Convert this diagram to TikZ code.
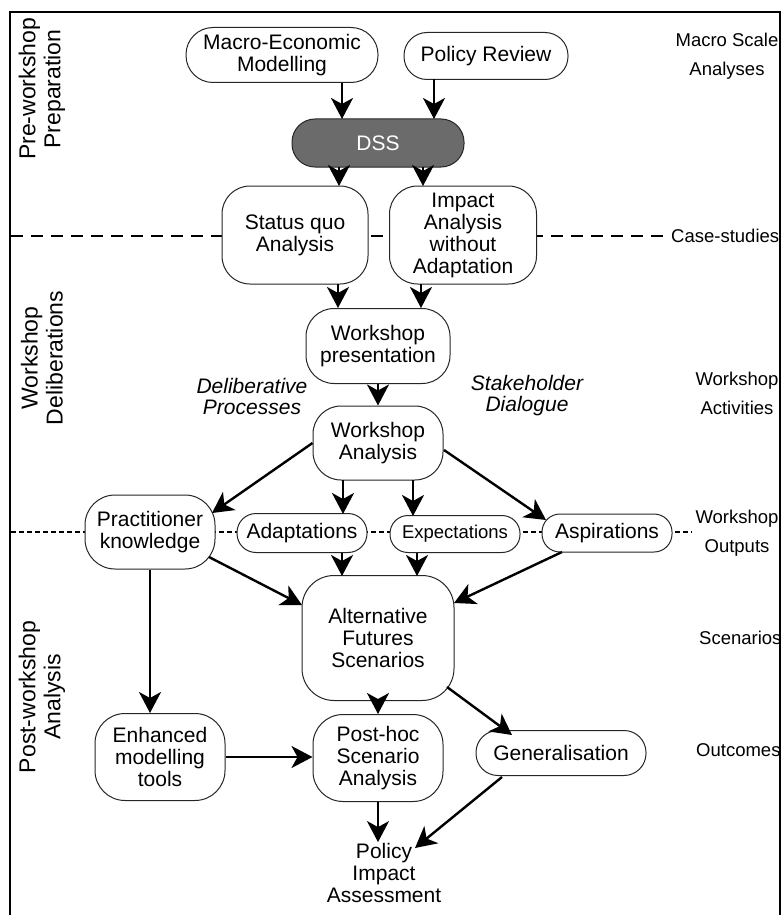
\documentclass[tikz,border=0pt]{standalone}
\usepackage{fontspec}
\setmainfont{Liberation Sans}
\usetikzlibrary{arrows.meta,calc}
\newcommand\bxf{\fontsize{21pt}{22pt}\selectfont}
\newcommand\sdf{\fontsize{23pt}{25pt}\selectfont}
\newcommand\rlf{\fontsize{18.5pt}{29pt}\selectfont}
\newcommand\itf{\fontsize{21pt}{21pt}\selectfont\itshape}
\begin{document}
\begin{tikzpicture}[x=1pt,y=-1pt,
  box/.style={draw=black!85, line width=1pt, fill=white, align=center, inner sep=0pt, font=\bxf},
  arr/.style={line width=2.4pt, -{Stealth[length=21pt 0,width=22pt 0,inset=6pt]}},
  sidelab/.style={rotate=90, align=center, font=\sdf, inner sep=0pt},
  rlab/.style={align=center, font=\rlf, inner sep=0pt},
  ilab/.style={align=center, font=\itf, inner sep=0pt}]
\useasboundingbox (0,0) rectangle (781,915);
% frame
\draw[line width=2.5pt] (10,930) -- (10,12) -- (780,12) -- (780,930);
% separators
\draw[line width=2.2pt, dash pattern=on 12pt off 8pt] (11,236) -- (665,236);
\draw[line width=1.6pt, dash pattern=on 5pt off 3pt] (11,532) -- (692,532);
% side labels
\node[sidelab] (pre) at (42,89) {Pre-workshop\\Preparation};
\node[sidelab] (del) at (42,358) {Workshop\\Deliberations};
\node[sidelab] (post) at (42,697) {Post-workshop\\Analysis};
% right labels
\node[rlab] (mac) at (727,56) {Macro Scale\\Analyses};
\node[rlab, anchor=west] (cas) at (671,236) {Case-studies};
\node[rlab] (act) at (737,393) {Workshop\\Activities};
\node[rlab] (out) at (737,533) {Workshop\\Outputs};
\node[rlab, anchor=west] (sce) at (699,638) {Scenarios};
\node[rlab, anchor=west] (outc) at (696,750) {Outcomes};
% italic labels
\node[ilab] (delp) at (252,396) {Deliberative\\Processes};
\node[ilab] (stak) at (527,396) {Stakeholder\\Dialogue};
% boxes
\node[box, minimum width=192pt, minimum height=55pt, rounded corners=27pt] (macro) at (282,55) {Macro-Economic\\Modelling};
\node[box, minimum width=164pt, minimum height=47pt, rounded corners=23pt] (policy) at (486,56) {Policy Review};
\node[box, fill=black!58, text=white, minimum width=172pt, minimum height=48pt, rounded corners=23pt] (dss) at (378,143) {DSS};
\node[box, minimum width=146pt, minimum height=98pt, rounded corners=28pt] (status) at (295,235) {Status quo\\Analysis};
\node[box, minimum width=147pt, minimum height=98pt, rounded corners=28pt] (impact) at (463,235) {Impact\\Analysis\\without\\Adaptation};
\node[box, minimum width=144pt, minimum height=75pt, rounded corners=28pt] (wp) at (378,346) {Workshop\\presentation};
\node[box, minimum width=130pt, minimum height=74pt, rounded corners=28pt] (wa) at (378,443) {Workshop\\Analysis};
\node[box, minimum width=130pt, minimum height=74pt, rounded corners=30pt] (prac) at (150,532) {Practitioner\\knowledge};
\node[box, minimum width=130pt, minimum height=39pt, rounded corners=19pt] (adapt) at (302,533) {Adaptations};
\node[box, minimum width=130pt, minimum height=37pt, rounded corners=18pt, font=\fontsize{18.5pt}{20pt}\selectfont] (expect) at (455,534) {Expectations};
\node[box, minimum width=130pt, minimum height=38pt, rounded corners=18pt] (aspir) at (607,533) {Aspirations};
\node[box, minimum width=152pt, minimum height=125pt, rounded corners=32pt] (afs) at (378,638) {Alternative\\Futures\\Scenarios};
\node[box, minimum width=130pt, minimum height=87pt, rounded corners=30pt] (enh) at (160,757) {Enhanced\\modelling\\tools};
\node[box, minimum width=130pt, minimum height=87pt, rounded corners=30pt] (posthoc) at (378,758) {Post-hoc\\Scenario\\Analysis};
\node[box, minimum width=170pt, minimum height=45pt, rounded corners=22pt] (gen) at (561,753) {Generalisation};
\node[align=center, font=\bxf, inner sep=1pt] (pia) at (384,873) {Policy\\Impact\\Assessment};
% arrows
\draw[arr] ($(macro)+(60,28)$) -- ($(dss)+(-36,-24)$);
\draw[arr] ($(policy)+(-52,23)$) -- ($(dss)+(56,-24)$);
\draw[arr] ($(dss)+(-39,24)$) -- ($(status)+(44,-49)$);
\draw[arr] ($(dss)+(45,24)$) -- ($(impact)+(-40,-49)$);
\draw[arr] ($(status)+(43,49)$) -- ($(wp)+(-40,-38)$);
\draw[arr] ($(impact)+(-42,49)$) -- ($(wp)+(43,-38)$);
\draw[arr] (wp.south) -- (wa.north);
\draw[arr] (wa.west) -- ($(prac)+(62,-19)$);
\draw[arr] ($(wa)+(-35,37)$) -- ($(adapt)+(41,-19)$);
\draw[arr] ($(wa)+(35,37)$) -- ($(expect)+(-42,-18)$);
\draw[arr] ($(wa)+(66,7)$) -- ($(aspir)+(-61,-13)$);
\draw[arr] ($(prac)+(59,25)$) -- ($(afs)+(-76,-33)$);
\draw[arr] ($(adapt)+(40,20)$) -- ($(afs)+(-36,-62)$);
\draw[arr] ($(expect)+(-38,19)$) -- ($(afs)+(39,-62)$);
\draw[arr] ($(aspir)+(-45,19)$) -- ($(afs)+(76,-35)$);
\draw[arr] (prac.south) -- (prac.south |- enh.north);
\draw[arr] (afs.south) -- (posthoc.north);
\draw[arr] (enh.east) -- (enh.east -| posthoc.west);
\draw[arr] ($(afs)+(69,49)$) -- ($(gen)+(-49,-18)$);
\draw[arr] (posthoc.south) -- (posthoc.south |- pia.north);
\draw[arr] ($(gen)+(-59,24)$) -- ($(pia)+(31,-25)$);
\end{tikzpicture}
\end{document}
